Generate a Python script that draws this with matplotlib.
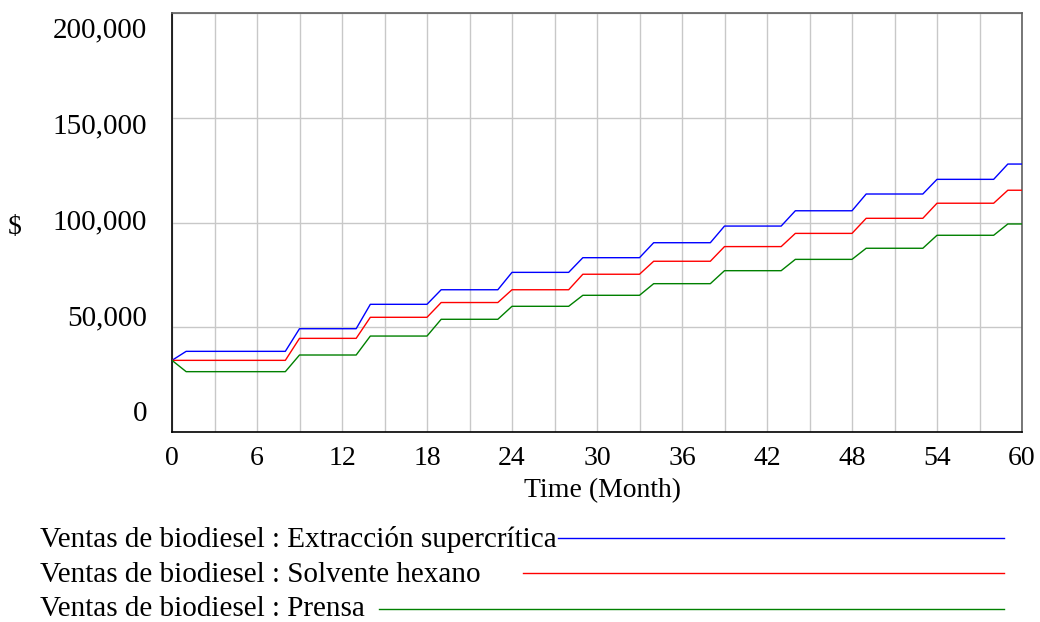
import numpy as np
import matplotlib
matplotlib.use("Agg")
import matplotlib.pyplot as plt

# Monthly sales levels (USD) for each extraction method; each level holds
# from its start month until the next one begins.
level_start_months = [0, 1, 9, 14, 19, 24, 29, 34, 39, 44, 49, 54, 59]
supercritica = [34200, 38500, 49300, 60950, 67900, 76200, 83200, 90350,
                98300, 105600, 113600, 120600, 127900]
hexano = [34200, 34200, 44700, 54750, 61800, 67900, 75300, 81500,
          88500, 94800, 102000, 109200, 115400]
prensa = [34200, 28800, 36750, 45800, 53800, 60000, 65250, 70800,
          77000, 82400, 87700, 93900, 99300]

final_month = 60
x_ticks = [0, 6, 12, 18, 24, 30, 36, 42, 48, 54, 60]
y_ticks = [0, 50000, 100000, 150000, 200000]
y_tick_labels = ["0", "50,000", "100,000", "150,000", "200,000"]

legend_labels = [
    "Ventas de biodiesel : Extracción supercrítica",
    "Ventas de biodiesel : Solvente hexano",
    "Ventas de biodiesel : Prensa",
]
colors = ["#0000ff", "#ff0000", "#008000"]

months = np.arange(final_month + 1)
durations = np.diff(level_start_months + [final_month + 1])


def monthly(levels):
    return np.repeat(levels, durations)


W, H = 1040, 622
fig = plt.figure(figsize=(W / 100, H / 100), dpi=100)
plt.rcParams["font.family"] = ["Liberation Serif", "DejaVu Serif"]

left, right, top, bottom = 172, 1022, 13, 432
ax = fig.add_axes([left / W, 1 - bottom / H, (right - left) / W, (bottom - top) / H])

series = [supercritica, hexano, prensa]
for vals, c in zip(series, colors):
    ax.plot(months, monthly(vals), color=c, lw=1.0, zorder=3)

ax.set_xlim(0, final_month)
ax.set_ylim(0, 200000)
ax.set_xticks(x_ticks)
ax.set_xticklabels([str(t) for t in x_ticks], fontsize=20)
ax.set_xticks(np.arange(0, final_month + 1, 3), minor=True)
ax.set_yticks(y_ticks)
ax.set_yticklabels([])
ax.grid(True, axis="x", which="both", color="#c8c8c8", lw=1.0)
ax.grid(True, axis="y", which="major", color="#c8c8c8", lw=1.0)
ax.set_axisbelow(True)
ax.tick_params(which="both", length=0)
ax.tick_params(axis="x", pad=10)

# Y labels are spread evenly a bit inside the axis extent
frac_lo = (bottom - 414) / (bottom - top)
frac_hi = (bottom - 30) / (bottom - top)
for i, lab in enumerate(y_tick_labels):
    f = frac_lo + i * (frac_hi - frac_lo) / (len(y_tick_labels) - 1)
    ax.text(-25 / (right - left), f, lab, transform=ax.transAxes,
            ha="right", va="center", fontsize=21)

for side in ["left", "bottom"]:
    ax.spines[side].set_color("black")
    ax.spines[side].set_linewidth(1.2)
for side in ["top", "right"]:
    ax.spines[side].set_color("#606060")
    ax.spines[side].set_linewidth(1.2)

fig.text(15 / W, 1 - 228 / H, "$", ha="center", va="center", fontsize=20)
fig.text(602 / W, 1 - 497 / H, "Time (Month)", ha="center", va="baseline", fontsize=20)

# Legend rows: label text followed by a line in the series colour
baselines = [546.7, 582.5, 615.5]
line_y = [538.3, 573.3, 608.5]
line_start = [558, 523, 379]
for lab, c, b, ly, xs in zip(legend_labels, colors, baselines, line_y, line_start):
    fig.text(40 / W, 1 - b / H, lab, ha="left", va="baseline", fontsize=21)
    fig.add_artist(plt.Line2D([xs / W, 1004 / W], [1 - ly / H, 1 - ly / H],
                              color=c, lw=1.0, transform=fig.transFigure))

fig.savefig("out.png", dpi=100)
